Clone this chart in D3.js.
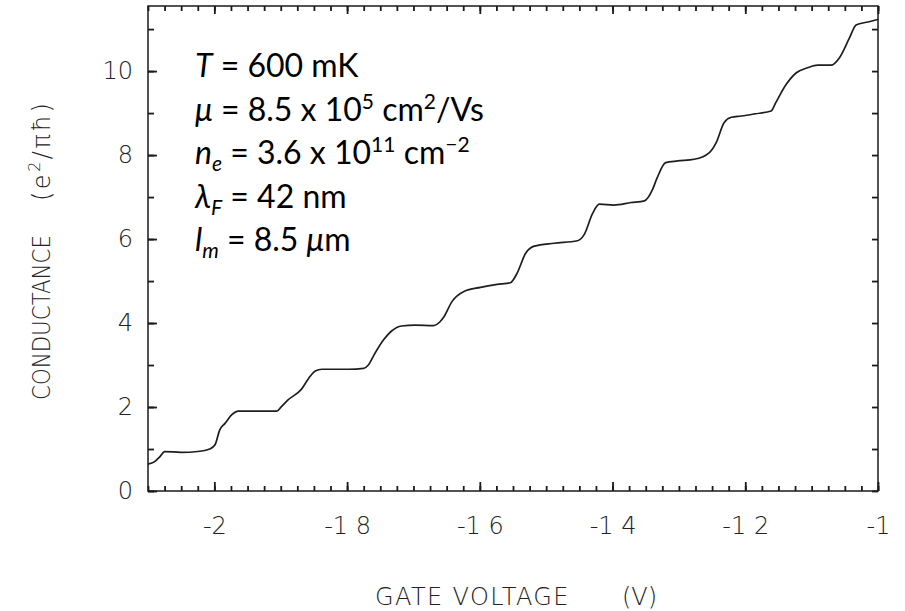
<!DOCTYPE html>
<html><head><meta charset="utf-8">
<script src="https://cdn.jsdelivr.net/npm/d3@7"></script>
<style>body{margin:0;background:#fff}svg{display:block}</style>
</head><body><svg id="c" width="905" height="611"></svg>
<script>
// ---- data ----
const gateVoltage = [-2.100,-2.090,-2.082,-2.075,-2.050,-2.025,-2.007,-1.999,-1.992,-1.984,-1.974,-1.964,-1.934,-1.906,-1.899,-1.889,-1.869,-1.858,-1.848,-1.838,-1.798,-1.775,-1.768,-1.758,-1.745,-1.733,-1.718,-1.697,-1.670,-1.660,-1.654,-1.642,-1.624,-1.599,-1.574,-1.554,-1.544,-1.531,-1.518,-1.488,-1.453,-1.443,-1.430,-1.420,-1.398,-1.372,-1.352,-1.340,-1.333,-1.320,-1.302,-1.277,-1.254,-1.244,-1.232,-1.221,-1.206,-1.186,-1.161,-1.154,-1.138,-1.123,-1.106,-1.091,-1.071,-1.058,-1.043,-1.033,-1.015,-1.000];
const conductance = [0.64,0.70,0.82,0.94,0.92,0.94,1.00,1.10,1.45,1.61,1.81,1.90,1.90,1.90,2.01,2.17,2.42,2.68,2.86,2.90,2.90,2.92,3.00,3.28,3.60,3.81,3.93,3.95,3.94,4.03,4.15,4.51,4.75,4.85,4.92,4.96,5.18,5.66,5.83,5.90,5.96,6.10,6.61,6.83,6.81,6.87,6.91,7.17,7.45,7.82,7.86,7.90,8.06,8.29,8.77,8.90,8.93,8.98,9.05,9.25,9.69,9.96,10.08,10.14,10.14,10.32,10.79,11.10,11.17,11.23];
const xTickValues = [-2,-1.8,-1.6,-1.4,-1.2,-1];
const xTickLabels = ["-2","-1 8","-1 6","-1 4","-1 2","-1"];
const yTickValues = [0,2,4,6,8,10];
const yTickLabels = ["0","2","4","6","8","10"];
const xDomain = [-2.1,-1.0];
const yDomain = [0,11.55];
const xTitle = "GATE VOLTAGE";
const xUnit = "(V)";
const yTitle = "CONDUCTANCE";
const annotationLines = [
  [{t:"T",i:1},{t:" = 600 mK"}],
  [{t:"μ",i:1},{t:" = 8.5 x 10"},{t:"5",s:1},{t:" cm"},{t:"2",s:1},{t:"/Vs"}],
  [{t:"n",i:1},{t:"e",i:1,b:1},{t:" = 3.6 x 10"},{t:"11",s:1},{t:" cm"},{t:"\u22122",s:1}],
  [{t:"λ",i:1},{t:"F",i:1,b:1},{t:" = 42 nm"}],
  [{t:"l",i:1},{t:"m",i:1,b:1},{t:" = 8.5 "},{t:"μ",i:1},{t:"m"}]
];

// ---- layout ----
const L=148, R=878, T=6, B=491;
const svg=d3.select("#c");
const x=d3.scaleLinear().domain(xDomain).range([L,R]);
const y=d3.scaleLinear().domain(yDomain).range([B,T]);
const ink="#1a1a1a";
const tickFont="'DejaVu Sans', sans-serif";
const textInk="#222";

const xMinor=d3.range(-84,-39).map(i=>i*0.025);
const yMinor=d3.range(0,12);

function styleAxis(g){
  g.select(".domain").remove();
  g.selectAll(".tick line").attr("stroke",ink).attr("stroke-width",1.8);
  g.selectAll(".tick text").attr("font-family",tickFont).attr("font-weight",200)
   .attr("font-size",24).attr("fill",textInk);
}

// frame (drawn first, ticks on top)
svg.append("rect").attr("x",L).attr("y",T).attr("width",R-L).attr("height",B-T)
  .attr("fill","none").attr("stroke",ink).attr("stroke-width",1.5);

// bottom
svg.append("g").attr("transform",`translate(0,${B})`)
  .call(d3.axisBottom(x).tickValues(xMinor).tickSize(-5).tickFormat(()=>""))
  .call(styleAxis);
svg.append("g").attr("transform",`translate(0,${B})`)
  .call(d3.axisBottom(x).tickValues(xTickValues).tickSize(-9).tickPadding(26)
    .tickFormat((d,i)=>xTickLabels[i]))
  .call(styleAxis);
// top
svg.append("g").attr("transform",`translate(0,${T})`)
  .call(d3.axisTop(x).tickValues(xMinor).tickSize(-5).tickFormat(()=>""))
  .call(styleAxis);
svg.append("g").attr("transform",`translate(0,${T})`)
  .call(d3.axisTop(x).tickValues(xTickValues).tickSize(-8).tickFormat(()=>""))
  .call(styleAxis);
// left
svg.append("g").attr("transform",`translate(${L},0)`)
  .call(d3.axisLeft(y).tickValues(yMinor).tickSize(-6).tickFormat(()=>""))
  .call(styleAxis);
svg.append("g").attr("transform",`translate(${L},0)`)
  .call(d3.axisLeft(y).tickValues(yTickValues).tickSize(-9).tickPadding(15)
    .tickFormat((d,i)=>yTickLabels[i]))
  .call(styleAxis);
// right
svg.append("g").attr("transform",`translate(${R},0)`)
  .call(d3.axisRight(y).tickValues(yMinor).tickSize(-6).tickFormat(()=>""))
  .call(styleAxis);

// curve
const pts=gateVoltage.map((v,i)=>[v,conductance[i]]);
svg.append("path").datum(pts)
  .attr("d",d3.line().x(d=>x(d[0])).y(d=>y(d[1])).curve(d3.curveMonotoneX))
  .attr("fill","none").attr("stroke","#1e1e1e").attr("stroke-width",1.7)
  .attr("stroke-linejoin","round");

// axis titles
svg.append("text").attr("x",375).attr("y",605)
  .attr("font-family",tickFont).attr("font-weight",200).attr("font-size",24)
  .attr("letter-spacing",1.4).attr("fill",textInk).text(xTitle);
svg.append("text").attr("x",622).attr("y",605)
  .attr("font-family",tickFont).attr("font-weight",200).attr("font-size",24)
  .attr("fill",textInk).text(xUnit);

const yt=svg.append("text").attr("transform","translate(50,400) rotate(-90) scale(0.89,1)")
  .attr("font-family",tickFont).attr("font-weight",200).attr("font-size",24)
  .attr("fill",textInk);
yt.append("tspan").text(yTitle);
const yu=svg.append("text").attr("transform","translate(50,201) rotate(-90)")
  .attr("font-family",tickFont).attr("font-weight",200).attr("font-size",24)
  .attr("letter-spacing",2.5).attr("fill",textInk);
yu.append("tspan").text("(e");
yu.append("tspan").attr("dy",-10).attr("font-size",16).text("2");
yu.append("tspan").attr("dy",10).text("/πħ)");

// annotation
const base=[77,121,164,208,251];
annotationLines.forEach((line,li)=>{
  const t=svg.append("text").attr("x",195).attr("y",base[li])
    .attr("font-family","Lato, 'Open Sans', sans-serif").attr("font-size",32).attr("fill","#000");
  let cur=0;
  line.forEach(p=>{
    const sp=t.append("tspan").text(p.t);
    if(p.i) sp.attr("font-style","italic");
    let target=0;
    if(p.s){sp.attr("font-size",21);target=-12;}
    if(p.b){sp.attr("font-size",21);target=7;}
    if(target!==cur){sp.attr("dy",target-cur);cur=target;}
  });
});
</script></body></html>
